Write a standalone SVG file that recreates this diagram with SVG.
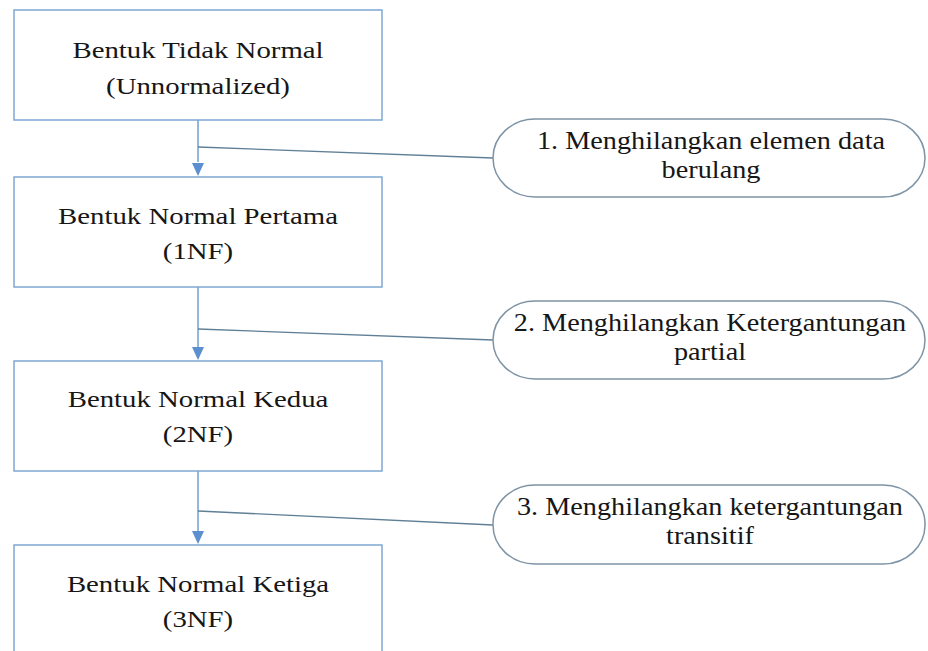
<svg xmlns="http://www.w3.org/2000/svg" width="928" height="651" viewBox="0 0 928 651">
  <style>
    .box { fill: #ffffff; stroke: #7fa7d4; stroke-width: 1.5; }
    .pill { fill: #ffffff; stroke: #7d93a6; stroke-width: 1.5; }
    .flow { fill: none; stroke: #6f9fd6; stroke-width: 1.5; }
    .branch { fill: none; stroke: #5f7f96; stroke-width: 1.3; }
    .head { fill: #5b8fd0; }
    text { font-family: "Liberation Serif", "DejaVu Serif", serif; fill: #161616; text-anchor: middle; }
    .lbl { font-size: 24px; }
    .note { font-size: 25px; }
  </style>
  <rect width="928" height="651" fill="#ffffff"/>

  <!-- vertical flow with arrowheads, plus the side branches to the step notes -->
  <g id="connectors">
    <line class="flow" x1="198" y1="120" x2="198" y2="162"/>
    <path class="head" d="M192,163 L204,163 L198,176 Z"/>
    <line class="flow" x1="198" y1="287" x2="198" y2="347"/>
    <path class="head" d="M192,347 L204,347 L198,360 Z"/>
    <line class="flow" x1="198" y1="471" x2="198" y2="531"/>
    <path class="head" d="M192,531 L204,531 L198,544 Z"/>
    <line class="branch" x1="198" y1="147" x2="493" y2="158"/>
    <line class="branch" x1="198" y1="329" x2="493" y2="340"/>
    <line class="branch" x1="198" y1="511" x2="493" y2="525"/>
  </g>

  <g id="unnormalized">
    <rect class="box" x="14" y="10" width="368" height="110"/>
    <g transform="translate(198,0) scale(1.2,1)">
      <text class="lbl" x="0" y="58">Bentuk Tidak Normal</text>
      <text class="lbl" x="0" y="94">(Unnormalized)</text>
    </g>
  </g>

  <g id="nf1">
    <rect class="box" x="14" y="177" width="368" height="110"/>
    <g transform="translate(198,0) scale(1.2,1)">
      <text class="lbl" x="0" y="224">Bentuk Normal Pertama</text>
      <text class="lbl" x="0" y="259">(1NF)</text>
    </g>
  </g>

  <g id="nf2">
    <rect class="box" x="14" y="361" width="368" height="110"/>
    <g transform="translate(198,0) scale(1.2,1)">
      <text class="lbl" x="0" y="407">Bentuk Normal Kedua</text>
      <text class="lbl" x="0" y="442">(2NF)</text>
    </g>
  </g>

  <g id="nf3">
    <rect class="box" x="14" y="545" width="368" height="120"/>
    <g transform="translate(198,0) scale(1.2,1)">
      <text class="lbl" x="0" y="592">Bentuk Normal Ketiga</text>
      <text class="lbl" x="0" y="627">(3NF)</text>
    </g>
  </g>

  <g id="step1">
    <rect class="pill" x="493" y="119" width="432" height="78" rx="42" ry="39"/>
    <g transform="translate(711,0) scale(1.13,1)">
      <text class="note" x="0" y="149">1. Menghilangkan elemen data</text>
      <text class="note" x="0" y="178">berulang</text>
    </g>
  </g>

  <g id="step2">
    <rect class="pill" x="493" y="301" width="432" height="78" rx="42" ry="39"/>
    <g transform="translate(710,0) scale(1.13,1)">
      <text class="note" x="0" y="331">2. Menghilangkan Ketergantungan</text>
      <text class="note" x="0" y="360">partial</text>
    </g>
  </g>

  <g id="step3">
    <rect class="pill" x="493" y="485" width="432" height="79" rx="42" ry="39"/>
    <g transform="translate(710,0) scale(1.13,1)">
      <text class="note" x="0" y="515">3. Menghilangkan ketergantungan</text>
      <text class="note" x="0" y="544">transitif</text>
    </g>
  </g>
</svg>
